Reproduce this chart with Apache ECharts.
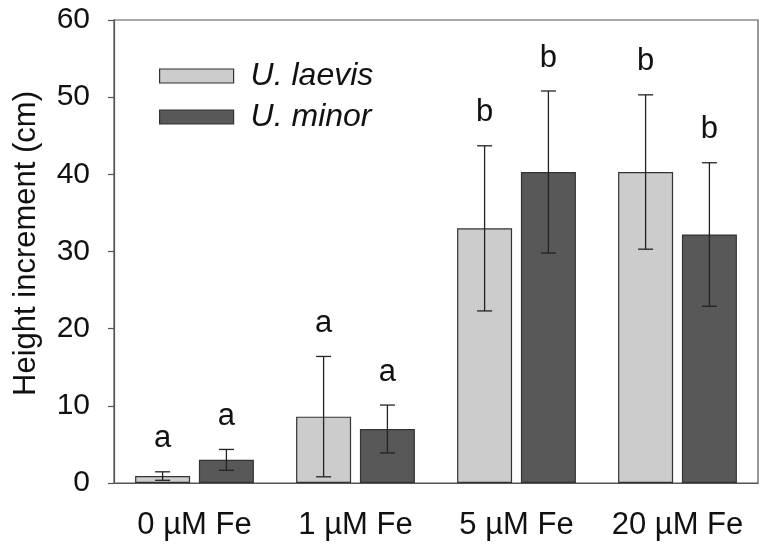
<!DOCTYPE html>
<html>
<head>
<meta charset="utf-8">
<script src="https://cdn.jsdelivr.net/npm/echarts@6/dist/echarts.min.js"></script>
<style>html,body{margin:0;padding:0;background:#fff}#c{width:769px;height:553px}</style>
</head>
<body>
<div id="c"></div>
<script>
var categories = ['0 \u00b5M Fe', '1 \u00b5M Fe', '5 \u00b5M Fe', '20 \u00b5M Fe'];
var seriesNames = ['U. laevis', 'U. minor'];
var laevisMean = [0.9, 8.6, 33.0, 40.3];
var laevisErr = [0.55, 7.8, 10.7, 10.0];
var laevisLetters = ['a', 'a', 'b', 'b'];
var minorMean = [3.0, 7.0, 40.3, 32.2];
var minorErr = [1.35, 3.1, 10.5, 9.3];
var minorLetters = ['a', 'a', 'b', 'b'];
var yTicks = [0, 10, 20, 30, 40, 50, 60];

var FONT = 'Liberation Sans, Arial, sans-serif';
var BAR_W = 55, GAP_PCT = 0.16;
var colors = ['#cccccc', '#585858'];

var errData = [];
[[laevisMean, laevisErr, laevisLetters], [minorMean, minorErr, minorLetters]].forEach(function (s, si) {
  s[0].forEach(function (v, i) { errData.push([i, v, s[1][i], s[2][i], si]); });
});

var chart = echarts.init(document.getElementById('c'));
chart.setOption({
  animation: false,
  backgroundColor: '#fff',
  grid: { left: 114, right: 11, top: 20, bottom: 70, show: true, borderColor: '#555', borderWidth: 1.2, backgroundColor: 'transparent' },
  legend: {
    orient: 'vertical', left: 159, top: 60, padding: 0,
    icon: 'rect',
    itemWidth: 74, itemHeight: 14, itemGap: 9,
    data: seriesNames,
    itemStyle: { borderColor: '#333', borderWidth: 1.2 },
    textStyle: { fontFamily: FONT, fontSize: 32, fontStyle: 'italic', color: '#111', lineHeight: 30, padding: [0, 0, 0, 12] }
  },
  xAxis: {
    type: 'category', data: categories,
    axisLine: { lineStyle: { color: '#555', width: 1.2 } },
    axisTick: { alignWithLabel: true, interval: 0, length: 7, lineStyle: { color: '#555', width: 1.2 } },
    axisLabel: { interval: 0, fontFamily: FONT, fontSize: 31, color: '#111', margin: 27 }
  },
  yAxis: {
    type: 'value', min: 0, max: 60, interval: 10,
    name: 'Height increment (cm)', nameLocation: 'middle', nameGap: 72,
    nameTextStyle: { fontFamily: FONT, fontSize: 31, color: '#111', padding: [0, 0, 0, 16] },
    axisLine: { show: true, lineStyle: { color: '#555', width: 1.2 } },
    axisTick: { show: true, length: 6, lineStyle: { color: '#555', width: 1.2 } },
    splitLine: { show: false },
    axisLabel: { fontFamily: FONT, fontSize: 30, color: '#111', margin: 24,
      formatter: function (v) { return yTicks.indexOf(v) >= 0 ? String(v) : ''; } }
  },
  series: [
    { name: seriesNames[0], type: 'bar', data: laevisMean, barWidth: BAR_W, barGap: (GAP_PCT * 100) + '%',
      itemStyle: { color: colors[0], borderColor: '#333', borderWidth: 1.2 } },
    { name: seriesNames[1], type: 'bar', data: minorMean, barWidth: BAR_W, barGap: (GAP_PCT * 100) + '%',
      itemStyle: { color: colors[1], borderColor: '#333', borderWidth: 1.2 } },
    { type: 'custom', data: errData, z: 10, silent: true,
      renderItem: function (params, api) {
        var ci = api.value(0), m = api.value(1), e = api.value(2), si = api.value(4);
        var letter = errData[params.dataIndex][3];
        var off = (BAR_W + BAR_W * GAP_PCT) / 2 * (si === 0 ? -1 : 1);
        var top = api.coord([ci, m + e]);
        var bot = api.coord([ci, Math.max(0, m - e)]);
        var x = top[0] + off;
        var hw = 7.5;
        var st = { stroke: '#222', lineWidth: 1.3 };
        return { type: 'group', children: [
          { type: 'line', shape: { x1: x, y1: top[1], x2: x, y2: bot[1] }, style: st },
          { type: 'line', shape: { x1: x - hw, y1: top[1], x2: x + hw, y2: top[1] }, style: st },
          { type: 'line', shape: { x1: x - hw, y1: bot[1], x2: x + hw, y2: bot[1] }, style: st },
          { type: 'text', x: x, y: top[1] - 33, style: { text: letter, fontFamily: FONT, fontSize: 31, fill: '#111', align: 'center', verticalAlign: 'middle', lineHeight: 30 } }
        ] };
      }
    }
  ]
});
</script>
</body>
</html>
